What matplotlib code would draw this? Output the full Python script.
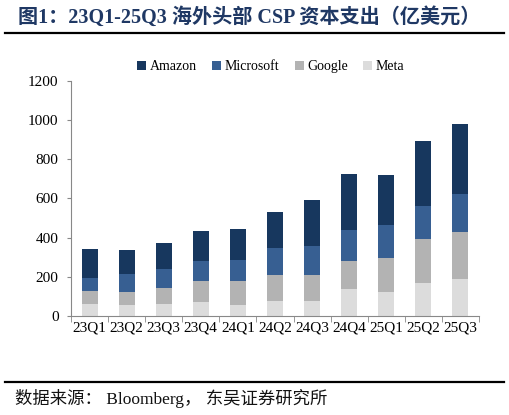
import numpy as np
import matplotlib
matplotlib.use("Agg")
import matplotlib.pyplot as plt

# quarters and capex per company (亿美元)
quarters = ["23Q1", "23Q2", "23Q3", "23Q4", "24Q1", "24Q2",
            "24Q3", "24Q4", "25Q1", "25Q2", "25Q3"]
meta = [61, 56, 61, 70, 56, 76, 77, 138, 124, 169, 189]
google = [65, 68, 80, 110, 121, 131, 131, 143, 172, 223, 240]
microsoft = [66, 90, 99, 99, 111, 139, 149, 158, 169, 170, 194]
amazon = [148, 123, 133, 153, 155, 184, 234, 288, 257, 330, 359]

serif = ["Liberation Serif", "Noto Sans CJK SC"]
plt.rcParams["font.family"] = serif

fig = plt.figure(figsize=(5.09, 4.15), dpi=100)
ax = fig.add_axes([0.1395, 0.2386, 0.8015, 0.5662])

x = np.arange(len(quarters))
w = 0.43
series = [("Meta", meta, "#dcdcdc"),
          ("Google", google, "#b3b3b3"),
          ("Microsoft", microsoft, "#375f92"),
          ("Amazon", amazon, "#17375e")]
bottom = np.zeros(len(quarters))
handles = {}
for name, vals, col in series:
    handles[name] = ax.bar(x, vals, w, bottom=bottom, color=col, label=name)
    bottom += np.array(vals)

ax.set_xlim(-0.5, len(quarters) - 0.5)
ax.set_ylim(0, 1200)
ax.set_yticks(range(0, 1201, 200))
ax.set_xticks(x)
ax.set_xticklabels(quarters, fontsize=11)
ax.set_xticks(np.arange(-0.5, len(quarters)), minor=True)
ax.tick_params(axis="x", which="major", length=0, pad=4)
ax.tick_params(axis="x", which="minor", length=4, color="#888888")
ax.tick_params(axis="y", length=3, color="#888888", labelsize=11, pad=6)

for s in ["top", "right"]:
    ax.spines[s].set_visible(False)
for s in ["left", "bottom"]:
    ax.spines[s].set_color("#888888")
    ax.spines[s].set_linewidth(0.8)

order = ["Amazon", "Microsoft", "Google", "Meta"]
ax.legend([handles[n] for n in order], order, ncol=4, frameon=False,
          loc="lower center", bbox_to_anchor=(0.49, 0.98), fontsize=10,
          handlelength=0.65, handleheight=0.65, handletextpad=0.25,
          columnspacing=1.1)

# title and source
fig.text(0.035, 0.958, "图1：23Q1-25Q3 海外头部 CSP 资本支出（亿美元）",
         fontsize=14.5, fontweight="bold", color="#1f3864", va="center")
fig.add_artist(plt.Line2D([0.01, 0.99], [0.921, 0.921], color="black", lw=1.6))
fig.add_artist(plt.Line2D([0.01, 0.99], [0.08, 0.08], color="black", lw=1.6))
fig.text(0.03, 0.04, "数据来源： Bloomberg， 东吴证券研究所", fontsize=12.5,
         color="#111111", va="center")

fig.savefig("out.png", dpi=100)
